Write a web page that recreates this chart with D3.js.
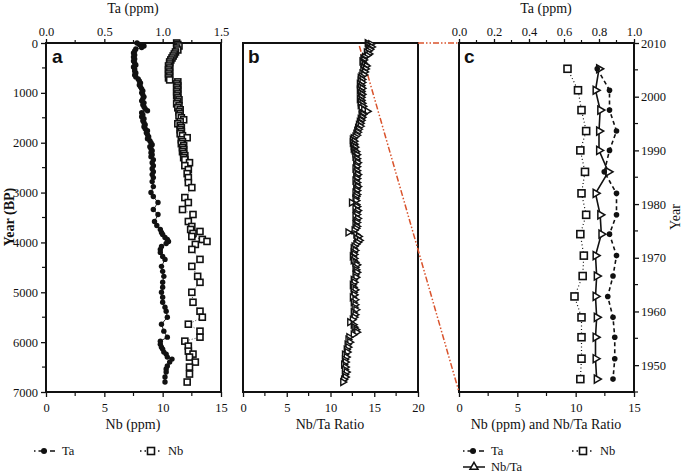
<!DOCTYPE html>
<html><head><meta charset="utf-8">
<script src="https://cdn.jsdelivr.net/npm/d3@7"></script>
<style>body{margin:0;background:#fff}svg{display:block}
svg text{font-family:'Liberation Serif','Times New Roman',Times,'DejaVu Serif',serif !important;fill:#111}
svg text.lab{font-family:'Liberation Sans',Arial,Helvetica,sans-serif !important}</style>
</head><body><svg id="c" width="685" height="473"></svg>
<script>
// ---------- Panel a: Ta and Nb (ppm) vs age (yr BP) ----------
const aTaAge = [0,30,60,90,120,160,200,240,280,320,360,400,440,480,520,560,600,640,680,720,760,800,840,880,920,960,1000,1040,1080,1120,1160,1200,1240,1280,1320,1360,1400,1440,1480,1520,1560,1600,1640,1680,1720,1760,1800,1840,1880,1920,1960,2000,2040,2080,2120,2160,2200,2240,2280,2340,2400,2460,2520,2580,2640,2700,2780,2880,3000,3080,3200,3340,3440,3580,3660,3740,3800,3840,3900,3940,3980,4020,4080,4140,4200,4280,4340,4480,4580,4680,4800,4900,5000,5100,5200,5300,5380,5500,5640,5780,5900,5980,6040,6100,6140,6200,6240,6300,6340,6400,6480,6540,6600,6700,6800];
const aTa = [0.78,0.80,0.84,0.82,0.77,0.76,0.75,0.76,0.75,0.76,0.75,0.76,0.77,0.75,0.76,0.76,0.77,0.76,0.77,0.79,0.80,0.81,0.80,0.81,0.82,0.83,0.82,0.83,0.84,0.83,0.82,0.84,0.83,0.84,0.85,0.87,0.82,0.83,0.82,0.84,0.83,0.84,0.85,0.84,0.85,0.87,0.86,0.87,0.88,0.87,0.89,0.90,0.91,0.89,0.90,0.91,0.90,0.91,0.90,0.92,0.91,0.92,0.91,0.92,0.91,0.92,0.91,0.92,0.90,0.92,0.96,0.92,0.96,0.93,0.95,0.98,0.99,1.00,1.02,1.04,1.05,1.03,0.99,0.98,0.98,1.00,1.02,0.99,1.00,1.01,1.00,1.00,0.99,1.00,1.00,1.02,1.03,1.04,0.99,1.01,1.04,0.98,0.98,0.99,1.00,1.01,1.03,1.04,1.08,1.06,1.04,1.03,1.03,1.02,1.02];
const aNbAge = [0,30,60,100,140,180,220,260,300,340,380,420,460,500,540,580,620,660,700,740,780,820,860,900,940,980,1020,1060,1100,1140,1180,1220,1260,1300,1340,1380,1420,1460,1500,1540,1580,1620,1660,1700,1740,1780,1820,1860,1900,1940,1980,2020,2060,2100,2140,2180,2220,2260,2300,2340,2400,2460,2540,2620,2700,2800,2900,3100,3200,3340,3440,3580,3680,3740,3780,3820,3880,3940,3980,4040,4140,4340,4480,4680,4800,5000,5200,5380,5500,5640,5780,5900,5980,6080,6180,6240,6300,6400,6500,6640,6800];
const aNb = [11.2,11.3,11.4,11.2,11.3,11.1,11.0,10.9,10.8,10.7,10.6,10.6,10.5,10.6,10.5,10.6,10.5,10.6,10.5,10.6,11.3,11.2,11.3,11.2,11.3,11.2,11.3,11.2,11.3,11.4,11.3,11.2,11.4,11.3,11.5,11.4,11.5,11.4,11.6,11.8,11.5,11.3,11.5,11.6,11.5,11.6,11.5,11.7,12.1,11.6,11.7,11.6,11.8,11.7,11.8,11.7,11.8,11.9,11.8,11.9,12.3,11.9,12.2,12.1,12.2,12.2,12.5,11.9,12.2,11.7,12.6,12.2,12.5,12.4,13.2,12.6,12.5,13.4,13.8,12.8,12.5,13.2,12.5,13.0,13.2,12.5,12.6,13.2,13.4,12.2,13.2,13.2,11.9,12.2,12.2,12.6,12.3,12.8,12.3,12.3,12.1];

// ---------- Panel b: Nb/Ta ratio vs age ----------
const bAge = [0,20,40,60,80,100,130,160,190,220,250,280,310,340,370,400,430,460,490,520,550,580,610,640,670,700,730,760,790,820,850,880,910,940,970,1000,1030,1060,1090,1120,1150,1180,1210,1240,1270,1300,1340,1370,1400,1430,1460,1490,1520,1550,1580,1610,1640,1670,1700,1730,1760,1790,1820,1850,1880,1910,1940,1970,2000,2030,2060,2090,2120,2150,2180,2210,2240,2280,2320,2360,2400,2440,2480,2520,2560,2600,2640,2680,2720,2760,2800,2840,2880,2920,2960,3000,3040,3080,3120,3160,3200,3240,3280,3320,3360,3400,3440,3480,3520,3560,3600,3640,3680,3720,3760,3800,3840,3880,3920,3960,4000,4040,4080,4120,4160,4200,4240,4280,4320,4360,4400,4450,4500,4550,4600,4650,4700,4750,4800,4850,4900,4950,5000,5050,5100,5150,5200,5250,5300,5350,5400,5450,5500,5550,5600,5650,5700,5750,5800,5850,5900,5950,6000,6050,6100,6150,6200,6250,6300,6350,6400,6450,6500,6550,6600,6650,6700,6750,6800];
const bRatio = [14.2,14.6,14.3,14.5,14.7,14.4,14.5,14.3,14.1,14.4,14.2,13.9,13.7,13.8,13.6,13.7,13.9,14.1,13.8,14.0,13.7,13.9,13.6,13.8,13.5,13.4,13.6,13.4,13.6,13.3,13.5,13.4,13.6,13.3,13.5,13.4,13.6,13.4,13.5,13.3,13.5,13.4,13.6,13.4,13.7,13.5,13.8,14.2,13.6,13.7,13.5,13.6,13.4,13.5,13.3,13.4,13.2,13.4,13.1,13.2,13.0,13.1,12.9,13.0,12.8,12.6,12.5,12.7,12.5,12.7,12.6,12.8,12.6,12.7,12.9,12.8,13.0,12.8,13.0,12.9,13.1,12.9,13.0,12.8,13.0,12.9,13.1,12.9,13.0,12.8,13.0,12.9,13.1,12.9,13.0,12.8,13.0,12.9,12.8,12.9,12.4,12.9,13.0,12.8,13.1,12.9,13.0,12.8,13.1,12.9,13.0,12.8,13.0,12.9,12.7,12.0,12.9,13.2,13.0,13.3,13.1,12.9,12.7,12.6,12.8,12.6,12.7,12.5,12.7,12.6,12.8,13.0,12.8,12.9,13.0,12.8,12.9,12.6,12.7,12.5,12.6,12.8,12.6,12.7,12.5,12.8,12.6,12.8,12.7,12.9,12.6,12.8,12.7,12.5,12.2,12.6,12.7,12.9,13.0,12.6,12.1,12.0,12.2,11.9,12.0,11.8,11.9,11.6,11.8,11.6,11.7,11.5,11.7,11.6,11.8,11.6,11.7,11.5,11.4];

// ---------- Panel c: recent years ----------
const cYear = [2005.2,2001.2,1997.5,1993.6,1990.0,1986.0,1982.0,1978.0,1974.4,1970.4,1966.6,1962.8,1958.9,1955.2,1951.2,1947.4];
const cTa = [0.79,0.86,0.86,0.90,0.86,0.83,0.90,0.90,0.86,0.90,0.88,0.85,0.88,0.89,0.89,0.88];
const cNb = [9.3,10.2,10.5,10.9,10.4,10.8,10.5,10.9,10.4,10.7,10.6,9.9,10.5,10.5,10.5,10.4];
const cRatio = [12.0,11.7,12.1,12.0,12.0,12.8,11.7,12.1,12.2,11.7,11.8,11.7,11.8,11.7,11.7,11.8];

// tick labels
const ageTicks = [0,1000,2000,3000,4000,5000,6000,7000];
const taTicksA = [0,0.5,1.0,1.5];
const nbTicksA = [0,5,10,15];
const ratioTicksB = [0,5,10,15,20];
const taTicksC = [0,0.2,0.4,0.6,0.8,1.0];
const nbTicksC = [0,5,10,15];
const yearTicks = [1950,1960,1970,1980,1990,2000,2010];

const svg = d3.select("#c");
const T = 43, B = 392;
const yA = d3.scaleLinear().domain([0,7000]).range([T,B]);
const xNbA = d3.scaleLinear().domain([0,15]).range([46,221]);
const xTaA = d3.scaleLinear().domain([0,1.5]).range([46,221]);
const xB = d3.scaleLinear().domain([0,20]).range([243,418]);
const xC = d3.scaleLinear().domain([0,15]).range([459,634]);
const xTaC = d3.scaleLinear().domain([0,1]).range([459,634]);
const yC = d3.scaleLinear().domain([1945,2010]).range([B,T]);

function styleAxis(g, fs){
  g.attr("font-family",null);
  g.selectAll(".domain").remove();
  g.selectAll(".tick line").attr("stroke","#111").attr("stroke-width",1.3);
  g.selectAll(".tick text").attr("font-size",fs||12.5).attr("fill","#111");
}
function minor(g, scale, vals, orient, len){
  vals.forEach(v=>{
    const p = scale(v);
    let l = g.append("line").attr("stroke","#111").attr("stroke-width",1.2);
    if(orient==="left") l.attr("x1",-len).attr("x2",0).attr("y1",p).attr("y2",p);
    if(orient==="right") l.attr("x1",0).attr("x2",len).attr("y1",p).attr("y2",p);
    if(orient==="bottom") l.attr("y1",0).attr("y2",len).attr("x1",p).attr("x2",p);
    if(orient==="top") l.attr("y1",-len).attr("y2",0).attr("x1",p).attr("x2",p);
  });
}

// Panel a axes
let g = svg.append("g").attr("transform",`translate(46,0)`).call(d3.axisLeft(yA).tickValues(ageTicks).tickFormat(d3.format("d")).tickSize(5).tickPadding(3));
styleAxis(g); minor(g,yA,[500,1500,2500,3500,4500,5500,6500],"left",4);
g = svg.append("g").attr("transform",`translate(0,${B})`).call(d3.axisBottom(xNbA).tickValues(nbTicksA).tickSize(5).tickPadding(6));
styleAxis(g); minor(g,xNbA,[2.5,7.5,12.5],"bottom",4);
g = svg.append("g").attr("transform",`translate(0,${T})`).call(d3.axisTop(xTaA).tickValues(taTicksA).tickFormat(d3.format(".1f")).tickSize(4).tickPadding(3));
styleAxis(g); minor(g,xTaA,[0.25,0.75,1.25],"top",3);
// Panel b axes
g = svg.append("g").attr("transform",`translate(0,${B})`).call(d3.axisBottom(xB).tickValues(ratioTicksB).tickSize(5).tickPadding(6));
styleAxis(g); minor(g,xB,[2.5,7.5,12.5,17.5],"bottom",4);
// Panel c axes
g = svg.append("g").attr("transform",`translate(0,${B})`).call(d3.axisBottom(xC).tickValues(nbTicksC).tickSize(5).tickPadding(6));
styleAxis(g); minor(g,xC,[2.5,7.5,12.5],"bottom",4);
g = svg.append("g").attr("transform",`translate(0,${T})`).call(d3.axisTop(xTaC).tickValues(taTicksC).tickFormat(d3.format(".1f")).tickSize(4).tickPadding(3));
styleAxis(g); minor(g,xTaC,[0.1,0.3,0.5,0.7,0.9],"top",3);
g = svg.append("g").attr("transform",`translate(634,0)`).call(d3.axisRight(yC).tickValues(yearTicks).tickFormat(d3.format("d")).tickSize(5).tickPadding(2));
styleAxis(g); minor(g,yC,[1945,1955,1965,1975,1985,1995,2005],"right",4);

// frames
[xNbA, xB, xC].forEach(s=>{
  const [x0,x1] = s.range();
  svg.append("rect").attr("x",x0).attr("y",T).attr("width",x1-x0).attr("height",B-T)
    .attr("fill","none").attr("stroke","#111").attr("stroke-width",2);
});

// red connector lines
const red = "#d9532c";
svg.append("line").attr("x1",xB(20)).attr("y1",yA(0)).attr("x2",xTaC(0)).attr("y2",yC(2010))
  .attr("stroke",red).attr("stroke-width",1.5).attr("stroke-dasharray","6,2,1.5,2,1.5,2");
svg.append("line").attr("x1",xB(13.3)).attr("y1",yA(60)).attr("x2",xC(0)).attr("y2",yC(1945))
  .attr("stroke",red).attr("stroke-width",1.5).attr("stroke-dasharray","6,2,1.5,2,1.5,2");

// marker helpers
const triSmall = d3.symbol().type(d3.symbolTriangle).size(20)();
const triPath = d3.symbol().type(d3.symbolTriangle).size(28)();
function squares(xs, ys, size){
  svg.append("g").selectAll("rect").data(xs).join("rect")
    .attr("x",(d,i)=>xs[i]-size/2).attr("y",(d,i)=>ys[i]-size/2).attr("width",size).attr("height",size)
    .attr("fill","#fff").attr("stroke","#111").attr("stroke-width",1.6);
}
function dots(xs, ys, r){
  svg.append("g").selectAll("circle").data(xs).join("circle")
    .attr("cx",(d,i)=>xs[i]).attr("cy",(d,i)=>ys[i]).attr("r",r).attr("fill","#111");
}
function tris(xs, ys, rot, p, sw){
  svg.append("g").selectAll("path").data(xs).join("path").attr("d",p)
    .attr("transform",(d,i)=>`translate(${xs[i]},${ys[i]}) rotate(${rot})`)
    .attr("fill","#fff").attr("stroke","#111").attr("stroke-width",sw);
}
function path(xs, ys, dash, w){
  svg.append("path").attr("d",d3.line()(xs.map((x,i)=>[x,ys[i]])))
    .attr("fill","none").attr("stroke","#111").attr("stroke-width",w).attr("stroke-dasharray",dash);
}

// Panel a data
let nx = aNb.map(v=>xNbA(v)), ny = aNbAge.map(v=>yA(v));
path(nx,ny,"1,2",0.8);
squares(nx,ny,6);
let tx = aTa.map(v=>xTaA(v)), ty = aTaAge.map(v=>yA(v));
path(tx,ty,null,0.9);
dots(tx,ty,2.7);

// Panel b data
let bx = bRatio.map(v=>xB(v)), by = bAge.map(v=>yA(v));
path(bx,by,null,1.2);
tris(bx,by,90,triSmall,1.4);

// Panel c data
let cnx = cNb.map(v=>xC(v)), cy = cYear.map(v=>yC(v));
path(cnx,cy,"1,2.5",1.2);
squares(cnx,cy,7);
let ctx = cTa.map(v=>xTaC(v));
path(ctx,cy,"4,3",1.6);
let crx = cRatio.map(v=>xC(v));
path(crx,cy,null,1.6);
tris(crx,cy,90,triPath,1.5);
dots(ctx,cy,2.8);

// panel letters
[["a",52],["b",248],["c",464]].forEach(([t,x])=>{
  svg.append("text").attr("class","lab").attr("x",x).attr("y",63).text(t)
    .attr("font-weight","bold").attr("font-size",19);
});

// axis titles
function title(txt,x,y,rot,bold){
  const t = svg.append("text").attr("text-anchor","middle").attr("font-size",14).text(txt)
    .attr("transform",`translate(${x},${y}) rotate(${rot||0})`);
  if(bold) t.attr("font-weight","bold");
}
title("Ta (ppm)",133,13);
title("Nb (ppm)",133,429);
title("Nb/Ta Ratio",330,429);
title("Ta (ppm)",546,13);
title("Nb (ppm) and Nb/Ta Ratio",546,429);
title("Year (BP)",14,217,-90,true);
title("Year",680,217,-90);

// legends
function legLine(x0,x1,y,dash){
  svg.append("line").attr("x1",x0).attr("x2",x1).attr("y1",y).attr("y2",y).attr("stroke","#111").attr("stroke-width",1.5).attr("stroke-dasharray",dash);
}
function legText(t,x,y){ svg.append("text").attr("x",x).attr("y",y+4).attr("font-size",12.5).text(t); }
// left
legLine(34,56,451,"1.5,3,5,2"); dots([44],[451],3); legText("Ta",62,451);
legLine(140,162,451,"1.5,3"); squares([151],[451],7); legText("Nb",168,451);
// right
legLine(463,485,451,"1.5,3,5,2"); dots([473],[451],3); legText("Ta",491,451);
legLine(572,594,451,"1.5,3"); squares([583],[451],7); legText("Nb",600,451);
legLine(463,485,467,null);
svg.append("path").attr("d",triPath).attr("transform","translate(474,467)").attr("fill","#fff").attr("stroke","#111").attr("stroke-width",1.5);
legText("Nb/Ta",491,467);
</script></body></html>
